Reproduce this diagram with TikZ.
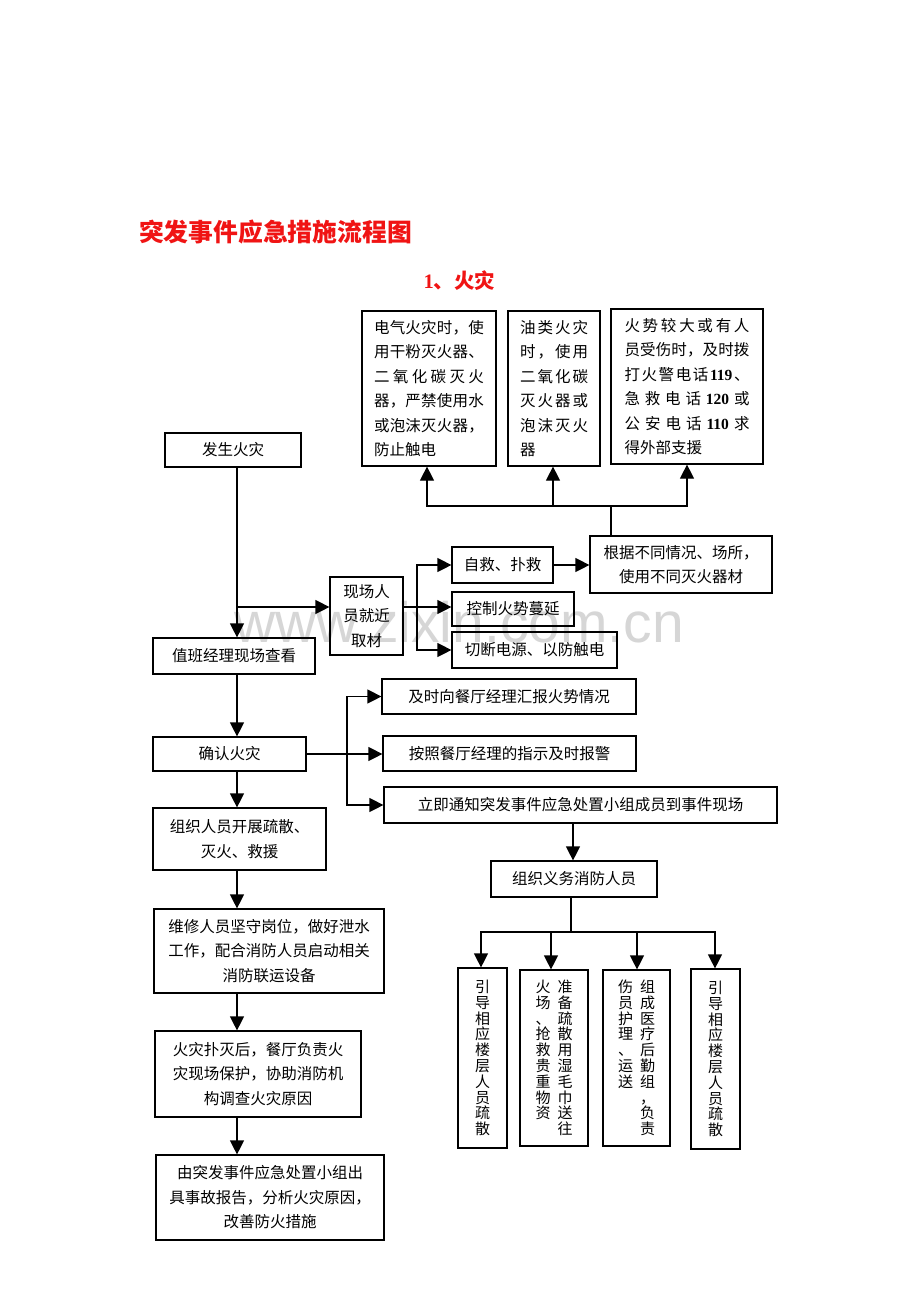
\documentclass[tikz,border=0pt]{standalone}
\usepackage{fontspec}
\setmainfont{Noto Sans CJK SC}
\newfontfamily\tnr{Liberation Serif}
\newfontfamily\wmf{Liberation Sans}
\usetikzlibrary{arrows.meta}
\makeatletter
\newcommand\spr[2]{\makebox[#1][s]{\@tfor\sprx:=#2\do{\sprx\hfil}\unskip}}
\makeatother
\newcommand\N[1]{{\tnr\bfseries #1}}
\newcommand\fs{\fontsize{15.5}{24.5}\selectfont}
\newcommand\vc[1]{\begin{minipage}[t]{16pt}\centering\fontsize{15}{15.8}\selectfont #1\end{minipage}}
\definecolor{titlered}{RGB}{240,20,20}
\tikzset{
  box/.style={draw, line width=1.2pt, inner sep=0pt, align=center, font=\fs},
  arr/.style={line width=1.2pt, line cap=rect, -{Triangle[width=14pt,length=14pt]}},
  ln/.style={line width=1.2pt, line cap=rect},
}
\begin{document}
\begin{tikzpicture}[x=1pt,y=-1pt]
\useasboundingbox (0,0) rectangle (920,1302);
\fill[white] (0,0) rectangle (920,1302);
% watermark
\node[font=\wmf\fontsize{57}{57}\selectfont, text=black!16, anchor=base, inner sep=0pt] (wm) at (459,642) {www.zixin.com.cn};
% titles
\node[font=\bfseries\fontsize{24.8}{26}\selectfont, text=titlered, inner sep=0pt] (title) at (275.5,232) {突发事件应急措施流程图};
\node[font=\bfseries\fontsize{20.5}{22}\selectfont, text=titlered, inner sep=0pt] (sub) at (459.5,281) {\N{1}、火灾};
% top boxes
\node[box, minimum width=134pt, minimum height=155pt, align=left, text width=110pt] (A) at (429,388.5) {\spr{110pt}{电气火灾时，使}\\\spr{110pt}{用干粉灭火器、}\\\spr{110pt}{二氧化碳灭火}\\\spr{110pt}{器，严禁使用水}\\\spr{110pt}{或泡沫灭火器，}\\防止触电};
\node[box, minimum width=92pt, minimum height=155pt, align=left, text width=68pt] (B) at (554,388.5) {\spr{68pt}{油类火灾}\\\spr{68pt}{时，使用}\\\spr{68pt}{二氧化碳}\\\spr{68pt}{灭火器或}\\\spr{68pt}{泡沫灭火}\\器};
\node[box, minimum width=152pt, minimum height=155pt, align=left, text width=125pt] (C) at (687,386.5) {\spr{125pt}{火势较大或有人}\\\spr{125pt}{员受伤时，及时拨}\\\spr{125pt}{打火警电话{\N{119}}、}\\\spr{125pt}{急救电话{\N{120}}或}\\\spr{125pt}{公安电话{\N{110}}求}\\得外部支援};
% left column and others
\node[box, minimum width=136pt, minimum height=34pt] (fire) at (233,450) {发生火灾};
\node[box, minimum width=73pt, minimum height=78pt] (onsite) at (366.5,616) {现场人\\员就近\\取材};
\node[box, minimum width=101pt, minimum height=36pt] (self) at (502.5,565) {自救、扑救};
\node[box, minimum width=122pt, minimum height=34pt] (ctrl) at (513,609) {控制火势蔓延};
\node[box, minimum width=165pt, minimum height=36pt] (cut) at (534.5,650) {切断电源、以防触电};
\node[box, minimum width=182pt, minimum height=57pt] (choose) at (681,564.5) {根据不同情况、场所，\\使用不同灭火器材};
\node[box, minimum width=162pt, minimum height=36pt] (duty) at (234,656) {值班经理现场查看};
\node[box, minimum width=153pt, minimum height=34pt] (confirm) at (229.5,754) {确认火灾};
\node[box, minimum width=254pt, minimum height=35pt] (report) at (509,696.5) {及时向餐厅经理汇报火势情况};
\node[box, minimum width=253pt, minimum height=35pt] (alarm) at (509.5,753.5) {按照餐厅经理的指示及时报警};
\node[box, minimum width=393pt, minimum height=36pt] (notify) at (580.5,805) {立即通知突发事件应急处置小组成员到事件现场};
\node[box, minimum width=166pt, minimum height=36pt] (org) at (574,879) {组织义务消防人员};
\node[box, minimum width=173pt, minimum height=62pt] (evac) at (239.5,839) {组织人员开展疏散、\\灭火、救援};
\node[box, minimum width=230pt, minimum height=84pt] (maint) at (269,951) {维修人员坚守岗位，做好泄水\\工作，配合消防人员启动相关\\消防联运设备};
\node[box, minimum width=206pt, minimum height=86pt] (after) at (258,1074) {火灾扑灭后，餐厅负责火\\灾现场保护，协助消防机\\构调查火灾原因};
\node[box, minimum width=228pt, minimum height=85pt] (final) at (270,1197.5) {由突发事件应急处置小组出\\具事故报告，分析火灾原因，\\改善防火措施};
% vertical boxes
\node[box, minimum width=49pt, minimum height=180pt] (v1) at (482.5,1058) {\vc{引\\导\\相\\应\\楼\\层\\人\\员\\疏\\散}};
\node[box, minimum width=68pt, minimum height=176pt] (v2) at (554,1058) {\vc{火\\场\\、\\抢\\救\\贵\\重\\物\\资}\hspace{6pt}\vc{准\\备\\疏\\散\\用\\湿\\毛\\巾\\送\\往}};
\node[box, minimum width=67pt, minimum height=176pt] (v3) at (636.5,1058) {\vc{伤\\员\\护\\理\\、\\运\\送}\hspace{6pt}\vc{组\\成\\医\\疗\\后\\勤\\组\\，\\负\\责}};
\node[box, minimum width=49pt, minimum height=180pt] (v4) at (715.5,1059) {\vc{引\\导\\相\\应\\楼\\层\\人\\员\\疏\\散}};
% left column connectors
\coordinate (ax) at (237,0);
\draw[arr] (fire.south -| ax) -- (duty.north -| ax);
\coordinate (j1) at (237,607);
\draw[arr] (j1) -- (onsite.west |- j1);
\draw[arr] (duty.south -| ax) -- (confirm.north -| ax);
\draw[arr] (confirm.south -| ax) -- (evac.north -| ax);
\draw[arr] (evac.south -| ax) -- (maint.north -| ax);
\draw[arr] (maint.south -| ax) -- (after.north -| ax);
\draw[arr] (after.south -| ax) -- (final.north -| ax);
% onsite branch
\coordinate (b1) at (417,607);
\draw[ln] (onsite.east |- b1) -- (b1);
\draw[arr] (b1) -- (ctrl.west |- b1);
\draw[arr] (b1 |- cut.west) |- (self.west);
\draw[arr] (b1 |- cut.west) -- (cut.west);
\draw[arr] (self.east) -- (choose.west |- self.east);
% top fan
\coordinate (t1) at (611,506);
\coordinate (tA) at (427,506);
\coordinate (tB) at (553,506);
\coordinate (tC) at (687,506);
\draw[ln] (choose.north -| t1) -- (t1);
\draw[ln] (tA) -- (tC);
\draw[arr] (tA) -- (tA |- A.south);
\draw[arr] (tB) -- (tB |- B.south);
\draw[arr] (tC) -- (tC |- C.south);
% confirm branch
\coordinate (b2) at (347,754);
\draw[arr] (confirm.east) -- (alarm.west |- confirm.east);
\draw[arr] (b2 |- notify.west) |- (report.west);
\draw[arr] (b2 |- notify.west) -- (notify.west);
% notify -> org
\coordinate (ox) at (573,0);
\draw[arr] (notify.south -| ox) -- (org.north -| ox);
% org fan
\coordinate (c0) at (571,932);
\coordinate (cL) at (481,932);
\coordinate (c2) at (551,932);
\coordinate (c3) at (637,932);
\coordinate (cR) at (715,932);
\draw[ln] (org.south -| c0) -- (c0);
\draw[ln] (cL) -- (cR);
\draw[arr] (cL) -- (cL |- v1.north);
\draw[arr] (c2) -- (c2 |- v2.north);
\draw[arr] (c3) -- (c3 |- v3.north);
\draw[arr] (cR) -- (cR |- v4.north);
\end{tikzpicture}
\end{document}
